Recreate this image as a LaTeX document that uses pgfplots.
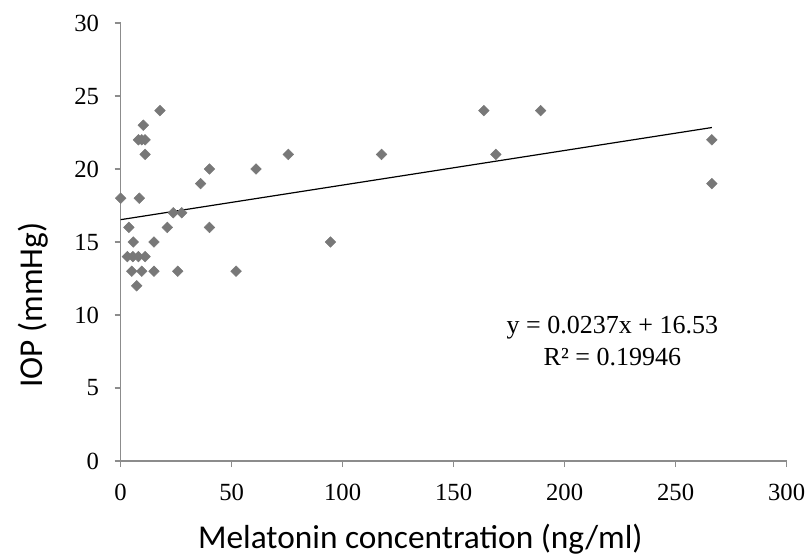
\documentclass[border=0pt]{standalone}
\usepackage{pgfplots}
\pgfplotsset{compat=1.18}
\usepackage{fontspec}
\setmainfont{Liberation Serif}
\newfontfamily\calibri{Carlito}
\definecolor{markgray}{RGB}{120,120,120}
\definecolor{axgray}{RGB}{140,140,140}
\begin{document}
\begin{tikzpicture}
\path[use as bounding box] (-90.5pt,-72pt) rectangle (515.5pt,345.75pt);
\begin{axis}[at={(0,0)}, anchor=south west, scale only axis,
  width=499.5pt, height=328.5pt,
  xmin=0, xmax=300, ymin=0, ymax=30,
  xtick={0,50,...,300}, ytick={0,5,...,30},
  axis x line=bottom, axis y line=left,
  axis line style={-, axgray, line width=0.9pt},
  tick align=outside, major tick length=4.5pt,
  tick style={axgray, line width=0.9pt},
  /pgf/number format/assume math mode=true,
  tick label style={font=\fontsize{18.5}{18.5}\selectfont},
  yticklabel style={anchor=east, inner sep=0pt, xshift=-11.5pt},
  xticklabel style={anchor=north, inner sep=0pt, yshift=-12.5pt},
  clip=false,
  xlabel={Melatonin concentration (ng/ml)},
  ylabel={IOP (mmHg)},
  xlabel style={font=\calibri\fontsize{25}{25}\selectfont, at={(axis description cs:0.45,-0.199)}, anchor=base},
  ylabel style={font=\calibri\fontsize{25}{25}\selectfont, at={(axis description cs:-0.1167,0.356)}, anchor=base},
]
\addplot[only marks, mark=square*, mark size=2.8pt,
  mark options={rotate=45, fill=markgray, draw=markgray}]
coordinates {
(17.7,24) (10.2,23) (8,22) (9.5,22) (11,22) (11,21) (75.5,21) (40,20) (61,20)
(36,19) (0,18) (8.4,18) (23.7,17) (27.5,17) (3.7,16) (21,16) (40,16)
(5.7,15) (15,15) (94.5,15) (3,14) (5.5,14) (8,14) (11,14)
(5,13) (9.5,13) (15,13) (25.7,13) (52,13) (7.2,12)
(117.5,21) (163.6,24) (169,21) (189.2,24) (266.3,22) (266.3,19)
};
\addplot[black, line width=0.9pt] coordinates {(0,16.53) (266.3,22.84)};
\node[align=center, font=\fontsize{19.5}{23.8}\selectfont] at (axis cs:221.5,8.2)
  {y = 0.0237x + 16.53\\R² = 0.19946};
\end{axis}
\end{tikzpicture}
\end{document}
